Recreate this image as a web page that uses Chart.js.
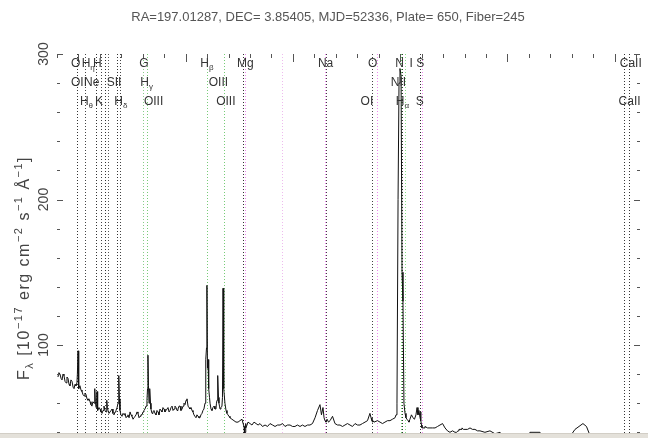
<!DOCTYPE html>
<html>
<head>
<meta charset="utf-8">
<script src="https://cdn.jsdelivr.net/npm/chart.js@4"></script>
<style>
  html, body { margin: 0; padding: 0; overflow: hidden; background: #fff; }
  canvas { display: block; }
  #edge { position: absolute; left: 0; top: 433px; width: 648px; height: 5px;
          background: #e4e1da; border-top: 1px solid #d2cec6; }
</style>
</head>
<body>
<canvas id="spectrum" width="648" height="560"></canvas>
<div id="edge"></div>
<script>
const TITLE = "RA=197.01287, DEC= 3.85405, MJD=52336, Plate= 650, Fiber=245";
const REDSHIFT = 0.0695;

// observed wavelength (Angstrom) and flux (1e-17 erg/cm^2/s/A)
const wave = [3809, 3818, 3828, 3838, 3847, 3856, 3865, 3875, 3884, 3893, 3903, 3912, 3921, 3930, 3940, 3950,
  3959, 3968, 3977, 3986, 3990, 3996, 4000, 4005, 4014, 4024, 4033, 4042, 4052, 4061,
  4070, 4080, 4089, 4098, 4108, 4117, 4126, 4135, 4145, 4150, 4154, 4158, 4164, 4170, 4173, 4176, 4182, 4192, 4201, 4210, 4220, 4229, 4238, 4248, 4257, 4262, 4266, 4270, 4276, 4285, 4294,
  4304, 4313, 4322, 4332, 4341, 4350, 4360, 4369, 4374, 4378, 4382, 4387, 4396, 4406, 4416, 4425, 4434, 4444, 4453, 4462, 4472, 4481, 4490, 4499, 4509, 4518, 4528, 4537, 4546, 4555, 4565, 4574,
  4583, 4593, 4602, 4611, 4620, 4630, 4639, 4644, 4648, 4653, 4658, 4662, 4667, 4672, 4676, 4686, 4695, 4704, 4714, 4723, 4732, 4742, 4751, 4760, 4770, 4779, 4788, 4798, 4807, 4816,
  4826, 4835, 4845, 4854, 4863, 4873, 4882, 4891, 4900, 4910, 4919, 4928, 4938, 4947, 4956, 4966, 4975, 4984, 4994, 5003, 5012, 5022, 5031, 5040, 5050, 5059, 5068, 5077, 5086, 5096, 5105, 5115,
  5124, 5133, 5142, 5152, 5161, 5170, 5180, 5185, 5189, 5194, 5198, 5203, 5208, 5212, 5217, 5222, 5227, 5236, 5245, 5254, 5264, 5273, 5282, 5287, 5292, 5296, 5301, 5306, 5310, 5315, 5320, 5329,
  5338, 5343, 5348, 5352, 5357, 5366, 5376, 5385, 5394, 5404, 5413, 5431, 5450, 5469, 5488, 5506, 5525, 5535, 5544, 5549, 5553, 5558, 5562, 5572, 5581, 5600, 5618, 5637, 5656, 5675,
  5693, 5716, 5740, 5763, 5786, 5810, 5833, 5856, 5880, 5903, 5926, 5950, 5973, 5996, 6019, 6042, 6066, 6089, 6112, 6136, 6159, 6182, 6206, 6229, 6252, 6266, 6280, 6290, 6299, 6308, 6318, 6332,
  6346, 6369, 6392, 6416, 6439, 6462, 6485, 6508, 6532, 6555, 6579, 6602, 6625, 6648, 6672, 6695, 6718, 6728, 6737, 6742, 6746, 6756, 6765, 6788, 6812, 6835, 6858, 6882, 6905, 6928, 6952, 6961,
  6970, 6980, 6989, 6998, 7008, 7017, 7026, 7035, 7045, 7054, 7063, 7073, 7082, 7091, 7105, 7119, 7133, 7147, 7157, 7166, 7175,
  7185, 7190, 7194, 7199, 7203, 7208, 7213, 7222, 7231, 7255, 7278, 7302, 7325, 7348, 7371, 7395, 7418, 7441, 7464, 7488, 7511, 7525, 7539, 7548, 7558, 7567, 7576, 7590, 7604, 7628, 7651,
  7674, 7697, 7721, 7744, 7790, 7837, 7884, 7931, 7977, 8024, 8070, 8117, 8164, 8210, 8257, 8303, 8350, 8397, 8443, 8490, 8537, 8583, 8630, 8704, 8737, 8769, 8802, 8835, 8872, 8910,
  8975, 9012, 9021, 9031, 9040, 9049, 9059, 9096, 9161, 9235];
const flux = [78, 81, 80, 77, 76, 80, 79, 75, 74, 78, 77, 73, 72, 76, 75, 71,
  70, 73, 72, 74, 80, 96, 78, 70, 72, 69, 68, 66, 65, 67,
  66, 63, 62, 63, 61, 59, 58, 61, 60, 66, 70, 61, 57, 64, 68, 58, 55, 57, 56, 54, 53, 55, 58, 55, 54, 58, 62, 57, 55, 53, 53,
  55, 56, 53, 52, 54, 55, 57, 60, 66, 79, 63, 55, 52, 51, 53, 52, 53, 50, 51, 52, 50, 54, 52, 51, 49, 50, 51, 52, 54, 53, 50, 51,
  52, 52, 54, 55, 56, 58, 62, 70, 93, 72, 60, 64, 70, 60, 56, 53, 54, 55, 53, 52, 55, 54, 52, 56, 55, 54, 57, 56, 54, 55,
  56, 57, 54, 55, 57, 58, 55, 56, 58, 57, 55, 56, 58, 58, 55, 56, 58, 60, 59, 62, 63, 58, 57, 56, 57, 55, 54, 52, 51, 50, 52, 51,
  50, 50, 52, 53, 55, 56, 60, 66, 90, 98, 141, 84, 90, 72, 70, 64, 60, 56, 55, 57, 58, 56, 56, 60, 62, 70, 79, 64, 60, 58, 56, 57,
  58, 64, 139, 78, 70, 60, 55, 53, 52, 51, 50, 49, 48, 47, 47, 48, 49, 46, 44, 38, 40, 46, 43, 45, 47, 46, 45, 47,
  46, 45, 46, 44, 45, 44, 46, 45, 44, 45, 45, 46, 44, 45, 45, 44, 44, 45, 44, 45, 44, 45, 45, 46, 50, 55, 59, 52, 57, 50, 48, 47,
  49, 47, 48, 51, 46, 45, 45, 44, 45, 46, 45, 44, 46, 45, 45, 46, 47, 48, 53, 50, 48, 47, 48, 47, 47, 48, 47, 46, 47, 48, 48, 49,
  50, 52, 60, 200, 280, 290, 285, 150, 130, 60, 53, 50, 49, 48, 47, 49, 52, 50, 49, 52,
  57, 52, 55, 50, 54, 48, 45, 43, 43, 43, 43, 44, 43, 43, 43, 43, 44, 45, 46, 43, 41, 40, 41, 40, 40, 41, 42, 42,
  42, 43, 42, 42, 42, 43, 42, 42, 41, 41, 40, 41, 39, 40, 36, 35, 34, 35, 35, 40, 40, 40, 36, 34, 34, 35,
  35, 37, 42, 46, 44, 38, 35, 34, 35, 34];

const yTicks = [100, 200, 300];

// rest-frame positions of marked lines
const lineWaves = [3727, 3798, 3889, 3934, 3969, 3995, 4072, 4102, 4304, 4340, 4861, 5007,
  5175, 5192, 5514, 5893, 5897, 6300, 6343, 6548, 6563, 6583, 6716, 6731, 8498, 8542];
const lineColors = ["#333", "#444", "#333", "#444", "#333", "#555", "#333", "#444", "#8c8", "#7c7", "#7c7", "#7c7",
  "#333", "#e8e", "#ebe", "#e8e", "#444", "#444", "#e8e", "#6c6", "#333", "#8d8", "#333", "#e8e", "#333", "#333"];

// labels: text ("_" starts a subscript), rest wavelength of label centre, row
const labelText = ["O", "H_η", "H", "OII", "Ne", "SII", "H_θ", "K", "H_δ", "G", "H_γ", "OIII",
  "H_β", "OIII", "OIII", "Mg", "Na", "O", "OI", "N", "NII", "H_α", "I", "S", "S", "CaII", "CaII"];
const labelWaves = [3715, 3825, 3905, 3745, 3855, 4050, 3810, 3920, 4110, 4310, 4335, 4395,
  4860, 4960, 5025, 5195, 5895, 6305, 6255, 6540, 6530, 6565, 6640, 6720, 6715, 8555, 8545];
const labelRows = [0, 0, 0, 1, 1, 1, 2, 2, 2, 0, 1, 2,
  0, 1, 2, 0, 0, 0, 2, 0, 1, 2, 0, 0, 2, 0, 2];

const FONT = "'Liberation Sans', Arial, sans-serif";
const ROW_Y = [64, 83, 102];

function drawSubText(ctx, text, x, y, size) {
  const parts = text.split("_");
  ctx.font = size + "px " + FONT;
  const w0 = ctx.measureText(parts[0]).width;
  ctx.font = Math.round(size * 0.7) + "px " + FONT;
  const w1 = parts[1] ? ctx.measureText(parts[1]).width : 0;
  const left = x - (w0 + w1) / 2;
  ctx.font = size + "px " + FONT;
  ctx.fillText(parts[0], left, y);
  if (parts[1]) {
    ctx.font = Math.round(size * 0.7) + "px " + FONT;
    ctx.fillText(parts[1], left + w0, y + size * 0.35);
  }
}

const decorations = {
  id: "decorations",
  beforeDatasetsDraw(chart) {
    const { ctx, chartArea: a, scales: { x } } = chart;
    ctx.save();
    ctx.lineWidth = 1;
    ctx.setLineDash([1, 2]);
    lineWaves.forEach((w, i) => {
      const px = Math.round(x.getPixelForValue(w * (1 + REDSHIFT))) + 0.5;
      ctx.strokeStyle = lineColors[i];
      ctx.beginPath();
      ctx.moveTo(px, a.top);
      ctx.lineTo(px, a.bottom);
      ctx.stroke();
    });
    ctx.restore();
  },
  afterDraw(chart) {
    const { ctx, chartArea: a, scales: { x, y } } = chart;
    ctx.save();

    // title
    ctx.fillStyle = "#555";
    ctx.font = "13px " + FONT;
    ctx.textAlign = "center";
    ctx.textBaseline = "middle";
    ctx.fillText(TITLE, 328, 17);

    ctx.strokeStyle = "#555";
    ctx.lineWidth = 1;
    // flux ticks on both sides, pointing in
    for (let v = 0; v <= 300; v += 20) {
      const py = Math.round(y.getPixelForValue(v)) + 0.5;
      const len = v % 100 === 0 ? 6 : 3;
      ctx.beginPath();
      ctx.moveTo(a.left, py); ctx.lineTo(a.left + len, py);
      ctx.moveTo(a.right, py); ctx.lineTo(a.right - len, py);
      ctx.stroke();
    }
    // wavelength ticks along the top
    for (let w = 3800; w <= 9200; w += 200) {
      const px = Math.round(x.getPixelForValue(w)) + 0.5;
      const len = w % 1000 === 0 ? 8 : 4;
      ctx.beginPath();
      ctx.moveTo(px, a.top); ctx.lineTo(px, a.top + len);
      ctx.stroke();
    }

    // rotated flux tick labels
    ctx.fillStyle = "#444";
    ctx.font = "14px " + FONT;
    yTicks.forEach(v => {
      const py = y.getPixelForValue(v);
      ctx.save();
      ctx.translate(44, py);
      ctx.rotate(-Math.PI / 2);
      ctx.fillText(String(v), 0, 0);
      ctx.restore();
    });

    // axis title, rotated
    const parts = [["F", 0], ["λ", -1], [" [10", 0], ["−17", 1], [" erg cm", 0], ["−2", 1],
      [" s", 0], ["−1", 1], [" Å", 0], ["−1", 1], ["]", 0]];
    const size = 16, small = 11;
    let total = 0;
    parts.forEach(p => {
      ctx.font = (p[1] ? small : size) + "px " + FONT;
      total += ctx.measureText(p[0]).width + 1.5 * p[0].length;
    });
    ctx.save();
    ctx.translate(25, 268);
    ctx.rotate(-Math.PI / 2);
    ctx.textAlign = "left";
    let cx = -total / 2;
    parts.forEach(p => {
      ctx.font = (p[1] ? small : size) + "px " + FONT;
      const dy = p[1] === 1 ? -6 : p[1] === -1 ? 5 : 0;
      for (const ch of p[0]) {
        ctx.fillText(ch, cx, dy);
        cx += ctx.measureText(ch).width + 1.5;
      }
    });
    ctx.restore();

    // line identifications
    ctx.fillStyle = "#333";
    ctx.textAlign = "left";
    labelText.forEach((t, i) => {
      const px = x.getPixelForValue(labelWaves[i] * (1 + REDSHIFT));
      drawSubText(ctx, t, px, ROW_Y[labelRows[i]], 12);
    });
    ctx.restore();
  }
};

new Chart(document.getElementById("spectrum"), {
  type: "line",
  data: {
    datasets: [{
      data: wave.map((w, i) => ({ x: w, y: flux[i] })),
      borderColor: "#111",
      borderWidth: 1,
      pointRadius: 0,
      tension: 0
    }]
  },
  options: {
    responsive: false,
    animation: false,
    events: [],
    layout: { padding: { left: 57, right: 8, top: 54, bottom: 69.5 } },
    scales: {
      x: { type: "linear", min: 3800, max: 9236, display: false },
      y: { type: "linear", min: 0, max: 300, display: false }
    },
    plugins: {
      legend: { display: false },
      tooltip: { enabled: false },
      title: { display: false }
    }
  },
  plugins: [decorations]
});
</script>
</body>
</html>
